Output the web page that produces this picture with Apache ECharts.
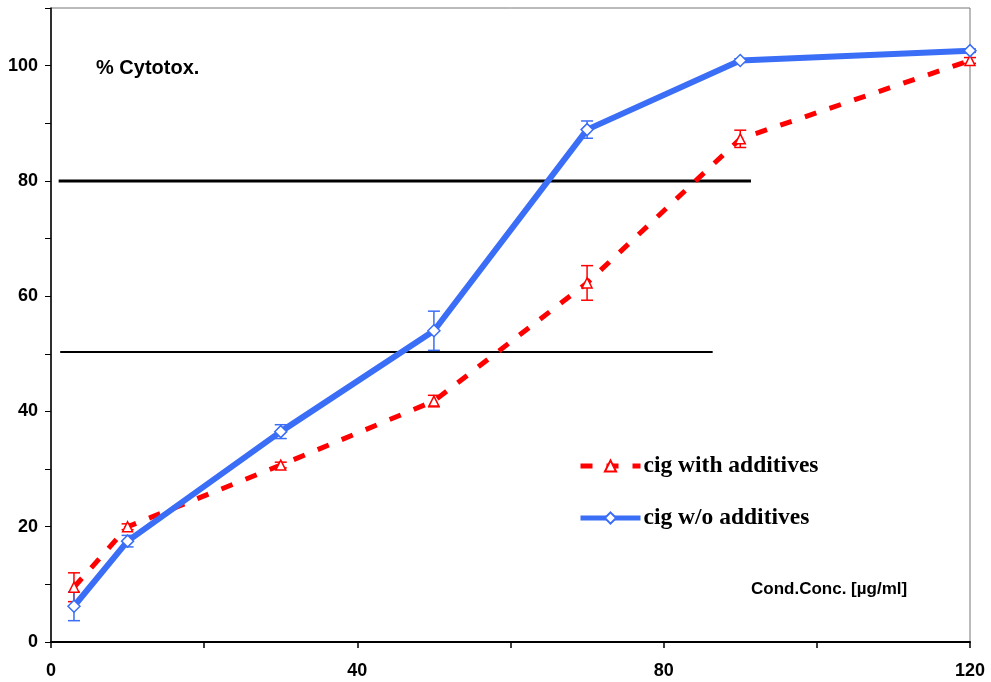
<!DOCTYPE html>
<html><head><meta charset="utf-8">
<script src="https://cdn.jsdelivr.net/npm/echarts@6/dist/echarts.min.js"></script>
<style>html,body{margin:0;padding:0;background:#fff}#c{width:991px;height:682px}</style>
</head><body><div id="c"></div>
<script>
var conc = [3, 10, 30, 50, 70, 90, 120];
var withAdd = [9.5, 20.0, 30.7, 41.8, 62.3, 87.3, 100.9];
var withAddErr = [2.5, 0.5, 0.5, 1.0, 3.0, 1.5, 0.5];
var woAdd = [6.2, 17.5, 36.5, 54.0, 88.9, 100.9, 102.6];
var woAddErr = [2.5, 1.0, 1.2, 3.4, 1.5, 0.3, 0.3];
var refLine80 = [[1, 80], [91.4, 80]];
var refLine50 = [[1.2, 50.3], [86.4, 50.3]];
var xTickLabels = [0, 40, 80, 120];
var yTickLabels = [0, 20, 40, 60, 80, 100];

var RED = '#ff0000', BLUE = '#3b6ef6';
function pairs(xs, ys){ return xs.map(function(x,i){return [x, ys[i]];}); }
function errData(xs, ys, es){ return xs.map(function(x,i){return [x, ys[i]-es[i], ys[i]+es[i]];}); }
function errRender(color){
  return function(params, api){
    var lo = api.coord([api.value(0), api.value(1)]);
    var hi = api.coord([api.value(0), api.value(2)]);
    var w = 6;
    var st = {stroke: color, lineWidth: 1.5};
    return {type:'group', children:[
      {type:'line', shape:{x1:lo[0],y1:lo[1],x2:hi[0],y2:hi[1]}, style:st},
      {type:'line', shape:{x1:lo[0]-w,y1:lo[1],x2:lo[0]+w,y2:lo[1]}, style:st},
      {type:'line', shape:{x1:hi[0]-w,y1:hi[1],x2:hi[0]+w,y2:hi[1]}, style:st}
    ]};
  };
}
var chart = echarts.init(document.getElementById('c'), null, {renderer:'canvas'});
var axisFont = {fontFamily:'Liberation Sans, Arial, sans-serif', fontWeight:'bold', fontSize:18, color:'#000'};
chart.setOption({
  animation:false,
  backgroundColor:'#fff',
  grid:{left:51, right:21, top:8, bottom:40, show:true, borderColor:'#777', borderWidth:1},
  xAxis:{type:'value', min:0, max:120, interval:20,
    axisLine:{onZero:false, lineStyle:{color:'#000', width:2}},
    axisTick:{show:true, length:6, lineStyle:{color:'#000', width:1.5}},
    splitLine:{show:false},
    axisLabel:Object.assign({margin:20, formatter:function(v){return xTickLabels.indexOf(v)>=0? String(v):'';}}, axisFont)},
  yAxis:{type:'value', min:0, max:110, interval:10,
    axisLine:{show:true, lineStyle:{color:'#000', width:1.5}},
    axisTick:{show:true, length:6, lineStyle:{color:'#000', width:1}},
    splitLine:{show:false},
    axisLabel:Object.assign({margin:13, formatter:function(v){return yTickLabels.indexOf(v)>=0? String(v):'';}}, axisFont)},
  legend:{orient:'vertical', left:573, top:449, itemWidth:60, itemHeight:14, itemGap:28,
    data:[
      {name:'cig with additives', lineStyle:{width:5, type:[12,14]}},
      {name:'cig w/o additives', lineStyle:{width:5}}
    ],
    textStyle:{fontFamily:'Liberation Serif, Times New Roman, serif', fontWeight:'bold', fontSize:23.5, color:'#000', padding:[0,0,0,-2]}},
  graphic:[
    {type:'text', left:96, top:58, style:{text:'% Cytotox.', font:'bold 20px Liberation Sans, Arial, sans-serif', fill:'#000'}},
    {type:'text', left:751, top:581, style:{text:'Cond.Conc. [µg/ml]', font:'bold 17px Liberation Sans, Arial, sans-serif', fill:'#000'}}
  ],
  series:[
    {type:'line', name:'ref80', data:refLine80, symbol:'none', silent:true, lineStyle:{color:'#000', width:3}, z:1},
    {type:'line', name:'ref50', data:refLine50, symbol:'none', silent:true, lineStyle:{color:'#000', width:2}, z:1},
    {type:'custom', name:'errWith', data:errData(conc, withAdd, withAddErr), renderItem:errRender(RED), z:3},
    {type:'custom', name:'errWo', data:errData(conc, woAdd, woAddErr), renderItem:errRender(BLUE), z:3},
    {type:'line', name:'cig with additives', data:pairs(conc, withAdd), symbol:'triangle', symbolSize:10,
      itemStyle:{color:'#fff', borderColor:RED, borderWidth:1.5},
      lineStyle:{color:RED, width:5, type:[12,14]}, color:RED, z:4},
    {type:'line', name:'cig w/o additives', data:pairs(conc, woAdd), symbol:'diamond', symbolSize:12,
      itemStyle:{color:'#fff', borderColor:BLUE, borderWidth:1.5},
      lineStyle:{color:BLUE, width:6}, color:BLUE, z:5}
  ]
});
</script></body></html>
